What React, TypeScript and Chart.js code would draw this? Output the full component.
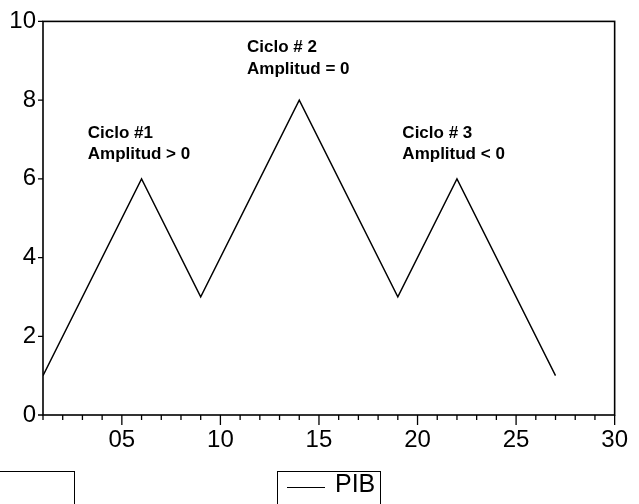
import React, { useEffect, useRef } from "react";
import { Chart, registerables } from "chart.js";

Chart.register(...registerables);

// ---- data ----
const periods = [1, 6, 9, 14, 19, 22, 27];
const pib = [1, 6, 3, 8, 3, 6, 1];
const seriesLabel = "PIB";
const xMajorTicks = [5, 10, 15, 20, 25, 30];
const annotationX = [3.27, 11.35, 19.23];
const annotationY = [7.04, 9.22, 7.04];
const annotationLines = [
  ["Ciclo #1", "Amplitud > 0"],
  ["Ciclo # 2", "Amplitud = 0"],
  ["Ciclo # 3", "Amplitud < 0"],
];

const FONT = '"Liberation Sans", Arial, Helvetica, sans-serif';

const framePlugin = {
  id: "frame",
  afterDraw(chart: any) {
    const { ctx, chartArea: a, scales } = chart;
    const x = scales.x;
    const y = scales.y;
    ctx.save();
    ctx.strokeStyle = "#000";
    ctx.lineWidth = 1.6;
    ctx.strokeRect(a.left, a.top, a.right - a.left, a.bottom - a.top);
    ctx.lineWidth = 1.3;
    ctx.beginPath();
    x.ticks.forEach((t: any) => {
      const px = x.getPixelForValue(t.value);
      const len = t.value % 5 === 0 ? 10 : 5;
      ctx.moveTo(px, a.bottom);
      ctx.lineTo(px, a.bottom + len);
    });
    y.ticks.forEach((t: any) => {
      const py = y.getPixelForValue(t.value);
      ctx.moveTo(a.left - 5, py);
      ctx.lineTo(a.left, py);
    });
    ctx.stroke();
    ctx.fillStyle = "#000";
    ctx.font = "bold 17px " + FONT;
    ctx.textAlign = "left";
    ctx.textBaseline = "alphabetic";
    annotationLines.forEach((lines, i) => {
      const px = x.getPixelForValue(annotationX[i]);
      const py = y.getPixelForValue(annotationY[i]);
      lines.forEach((ln, j) => ctx.fillText(ln, px, py + j * 21.5));
    });
    ctx.restore();
  },
};

export default function App() {
  const ref = useRef<HTMLCanvasElement>(null);
  useEffect(() => {
    if (!ref.current) return;
    const chart = new Chart(ref.current, {
      type: "line",
      data: {
        datasets: [
          {
            label: seriesLabel,
            data: periods.map((p, i) => ({ x: p, y: pib[i] })),
            borderColor: "#000",
            borderWidth: 1.4,
            pointRadius: 0,
            tension: 0,
            fill: false,
          },
        ],
      },
      options: {
        animation: false,
        responsive: false,
        layout: { padding: { top: 20, right: 23, left: 0, bottom: 0 } },
        plugins: { legend: { display: false }, tooltip: { enabled: false } },
        scales: {
          x: {
            type: "linear",
            min: 1,
            max: 30,
            grid: { display: false, drawTicks: false },
            border: { display: false },
            ticks: {
              stepSize: 1,
              autoSkip: false,
              maxRotation: 0,
              padding: 11,
              color: "#000",
              font: { family: FONT, size: 24 },
              callback: (v: any) =>
                xMajorTicks.includes(Number(v)) ? String(v).padStart(2, "0") : "",
            },
            afterFit: (s: any) => {
              s.height = 89;
            },
          },
          y: {
            min: 0,
            max: 10,
            grid: { display: false, drawTicks: false },
            border: { display: false },
            ticks: {
              stepSize: 2,
              padding: 7,
              color: "#000",
              font: { family: FONT, size: 24 },
            },
            afterFit: (s: any) => {
              s.width = 43;
            },
          },
        },
      } as any,
      plugins: [framePlugin],
    });
    return () => chart.destroy();
  }, []);

  return (
    <div
      style={{
        position: "absolute",
        left: 0,
        top: 0,
        width: 639,
        height: 504,
        overflow: "hidden",
        background: "#fff",
      }}
    >
      <canvas ref={ref} width={639} height={504} style={{ display: "block" }} />
      <div
        style={{
          position: "absolute",
          left: -10,
          top: 471,
          width: 85,
          height: 60,
          border: "1.5px solid #000",
          boxSizing: "border-box",
        }}
      />
      <div
        style={{
          position: "absolute",
          left: 277,
          top: 471,
          width: 104,
          height: 60,
          border: "1.5px solid #000",
          boxSizing: "border-box",
        }}
      >
        <div
          style={{
            position: "absolute",
            left: 9,
            top: 15,
            width: 38,
            height: 0,
            borderTop: "1.3px solid #000",
          }}
        />
        <div
          style={{
            position: "absolute",
            left: 57,
            top: -3,
            fontFamily: FONT,
            fontSize: 25,
            lineHeight: "28px",
            color: "#000",
          }}
        >
          {seriesLabel}
        </div>
      </div>
    </div>
  );
}
